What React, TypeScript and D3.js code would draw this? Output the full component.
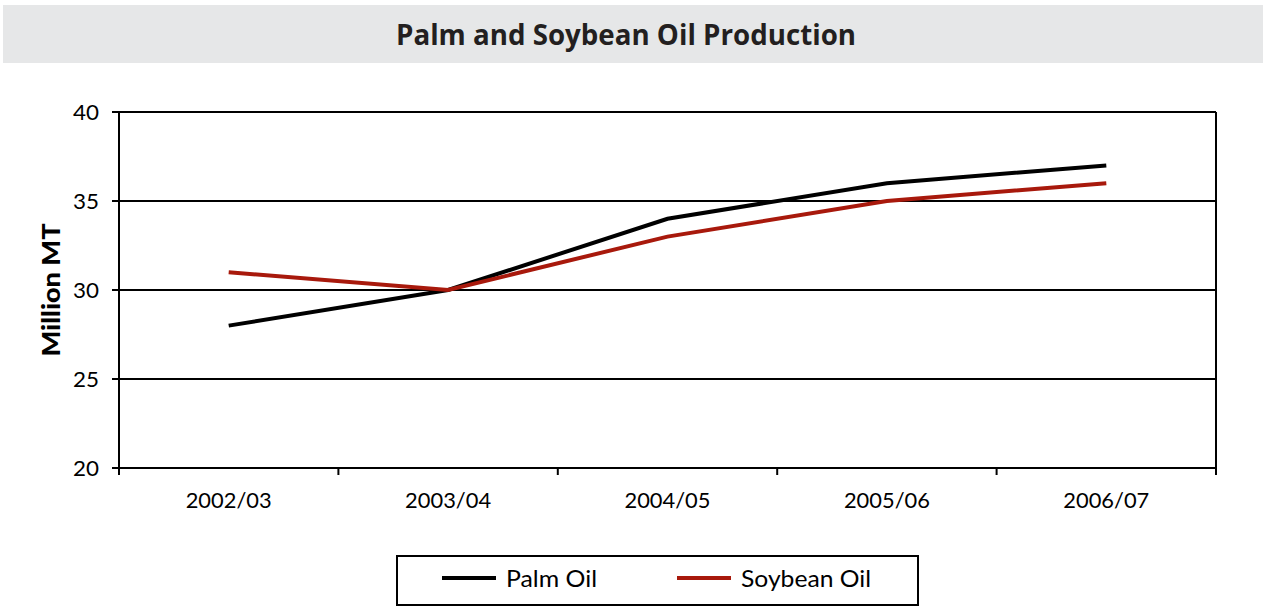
import React from "react";
import * as d3 from "d3";

const categories = ["2002/03", "2003/04", "2004/05", "2005/06", "2006/07"];
const palmOil = [28, 30, 34, 36, 37];
const soybeanOil = [31, 30, 33, 35, 36];
const yTicks = [20, 25, 30, 35, 40];
const seriesNames = ["Palm Oil", "Soybean Oil"];
const seriesColors = ["#000000", "#a8190c"];

const W = 1263;
const H = 606;
const plot = { left: 119, right: 1216, top: 112, bottom: 468 };
const font = "Lato, 'Open Sans', sans-serif";

export default function App() {
  const x = d3.scaleBand().domain(categories).range([plot.left, plot.right]);
  const y = d3.scaleLinear().domain([20, 40]).range([plot.bottom, plot.top]);
  const line = d3
    .line<number>()
    .x((_, i) => (x(categories[i]) as number) + x.bandwidth() / 2)
    .y((d) => y(d));
  const series = [palmOil, soybeanOil];
  const boundaries = [...categories.map((c) => x(c) as number), plot.right];
  const legendX = [442, 677];
  const legendTextLen = [91, 130];

  return (
    <div style={{ position: "absolute", left: 0, top: 0 }}>
      <svg width={W} height={H} style={{ display: "block" }}>
        <rect x={0} y={0} width={W} height={H} fill="#fff" />
        <rect x={3} y={5} width={W - 3} height={58} fill="#e6e7e8" />
        <text
          x={626}
          y={45}
          textAnchor="middle"
          fontFamily="'Open Sans', sans-serif"
          fontWeight={700}
          fontSize={28}
          textLength={460}
          lengthAdjust="spacingAndGlyphs"
          fill="#231f20"
        >
          Palm and Soybean Oil Production
        </text>

        {/* gridlines */}
        {yTicks.map((t) => (
          <g key={t}>
            <line x1={plot.left - 7} x2={plot.right} y1={y(t)} y2={y(t)} stroke="#000" strokeWidth={2} />
            <text
              x={99}
              y={y(t) + 8}
              textAnchor="end"
              fontFamily={font}
              fontSize={22}
              textLength={26}
              lengthAdjust="spacingAndGlyphs"
              fill="#000"
            >
              {t}
            </text>
          </g>
        ))}
        {/* axes border */}
        <line x1={plot.left} x2={plot.left} y1={plot.top} y2={plot.bottom + 7} stroke="#000" strokeWidth={2} />
        <line x1={plot.right} x2={plot.right} y1={plot.top} y2={plot.bottom + 7} stroke="#000" strokeWidth={2} />
        {boundaries.map((b, i) => (
          <line key={i} x1={b} x2={b} y1={plot.bottom} y2={plot.bottom + 7} stroke="#000" strokeWidth={2} />
        ))}
        {categories.map((c) => (
          <text
            key={c}
            x={(x(c) as number) + x.bandwidth() / 2}
            y={508}
            textAnchor="middle"
            fontFamily={font}
            fontSize={21}
            textLength={86}
            lengthAdjust="spacingAndGlyphs"
            fill="#000"
          >
            {c}
          </text>
        ))}
        <text
          transform={`translate(60,${(plot.top + plot.bottom) / 2}) rotate(-90)`}
          textAnchor="middle"
          fontFamily={font}
          fontWeight={900}
          fontSize={24}
          textLength={133}
          lengthAdjust="spacingAndGlyphs"
          fill="#000"
        >
          Million MT
        </text>

        {series.map((s, i) => (
          <path key={i} d={line(s) || ""} fill="none" stroke={seriesColors[i]} strokeWidth={4} />
        ))}

        {/* legend */}
        <rect x={397} y={556} width={521} height={49} fill="#fff" stroke="#000" strokeWidth={2} />
        {seriesNames.map((n, i) => {
          const lx = legendX[i];
          return (
            <g key={n}>
              <line x1={lx} x2={lx + 54} y1={578} y2={578} stroke={seriesColors[i]} strokeWidth={4} />
              <text
                x={lx + 64}
                y={587}
                fontFamily={font}
                fontSize={24}
                textLength={legendTextLen[i]}
                lengthAdjust="spacingAndGlyphs"
                fill="#000"
              >
                {n}
              </text>
            </g>
          );
        })}
      </svg>
    </div>
  );
}
